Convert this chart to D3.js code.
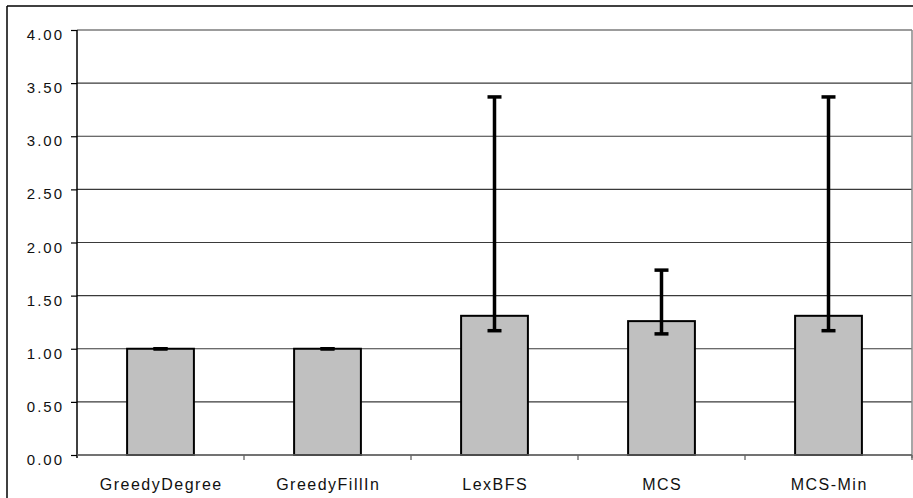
<!DOCTYPE html>
<html>
<head>
<meta charset="utf-8">
<script src="https://cdn.jsdelivr.net/npm/d3@7"></script>
<style>
  html, body { margin: 0; padding: 0; background: #fff; }
  svg { display: block; }
</style>
</head>
<body>
<svg id="chart" width="913" height="498"></svg>
<script>
const categories = ["GreedyDegree", "GreedyFillIn", "LexBFS", "MCS", "MCS-Min"];
const means      = [1.00, 1.00, 1.31, 1.26, 1.31];
const errLow     = [1.00, 1.00, 1.17, 1.14, 1.17];
const errHigh    = [1.00, 1.00, 3.37, 1.74, 3.37];
const yTicks     = [0, 0.5, 1, 1.5, 2, 2.5, 3, 3.5, 4];

const W = 913, H = 498;
const plot = { left: 77, right: 912, top: 30, bottom: 455 };

const svg = d3.select("#chart");

// outer frame (top and left only visible)
svg.append("line").attr("x1", 7).attr("x2", W).attr("y1", 6).attr("y2", 6)
  .attr("stroke", "#000").attr("stroke-width", 1.5);
svg.append("line").attr("x1", 7).attr("x2", 7).attr("y1", 6).attr("y2", H)
  .attr("stroke", "#000").attr("stroke-width", 1.5);

const x = d3.scaleBand().domain(categories)
  .range([plot.left, plot.right]).paddingInner(0.6).paddingOuter(0.3);
const y = d3.scaleLinear().domain([0, 4]).range([plot.bottom, plot.top]);

// gridlines
svg.append("g").selectAll("line").data(yTicks).join("line")
  .attr("x1", plot.left).attr("x2", plot.right)
  .attr("y1", d => y(d)).attr("y2", d => y(d))
  .attr("stroke", "#3a3a3a").attr("stroke-width", 1.2);

// right border of plot area
svg.append("line").attr("x1", plot.right).attr("x2", plot.right)
  .attr("y1", plot.top).attr("y2", plot.bottom + 3)
  .attr("stroke", "#888").attr("stroke-width", 1.5);

// y axis
const yAxis = d3.axisLeft(y).tickValues(yTicks).tickSize(6).tickFormat(d3.format(".2f"));
const gy = svg.append("g").attr("transform", `translate(${plot.left},0)`).call(yAxis);
gy.select(".domain").remove();
gy.selectAll(".tick line").attr("stroke", "#000").attr("stroke-width", 1.2);
gy.selectAll(".tick text")
  .attr("x", -13).attr("dy", null).attr("y", 9.5)
  .attr("fill", "#111")
  .style("font-family", "'Liberation Sans', Arial, Helvetica, sans-serif")
  .style("font-size", "15px").style("letter-spacing", "2px")
  .attr("text-anchor", "end");
svg.append("line").attr("x1", plot.left).attr("x2", plot.left)
  .attr("y1", plot.top).attr("y2", plot.bottom + 3)
  .attr("stroke", "#000").attr("stroke-width", 1.5);

// bars
svg.append("g").selectAll("rect").data(categories).join("rect")
  .attr("x", d => x(d)).attr("width", x.bandwidth())
  .attr("y", (d, i) => y(means[i]))
  .attr("height", (d, i) => y(0) - y(means[i]))
  .attr("fill", "#c0c0c0").attr("stroke", "#000").attr("stroke-width", 2);

// x axis
const step = x.step();
const sepTicks = d3.range(1, categories.length + 1).map(k => plot.left + k * step);
svg.append("g").selectAll("line").data(sepTicks).join("line")
  .attr("x1", d => d).attr("x2", d => d)
  .attr("y1", plot.bottom).attr("y2", plot.bottom + 5)
  .attr("stroke", "#555").attr("stroke-width", 1.2);
svg.append("line").attr("x1", plot.left).attr("x2", plot.right)
  .attr("y1", plot.bottom).attr("y2", plot.bottom)
  .attr("stroke", "#666").attr("stroke-width", 1.6);

svg.append("g").selectAll("text").data(categories).join("text")
  .attr("x", d => x(d) + x.bandwidth() / 2 + 0.75)
  .attr("y", 490)
  .attr("text-anchor", "middle")
  .attr("fill", "#111")
  .style("font-family", "'Liberation Sans', Arial, Helvetica, sans-serif")
  .style("font-size", "16px").style("letter-spacing", "1.5px")
  .text(d => d);

// error bars
const cap = 7;
const eb = svg.append("g").attr("stroke", "#000").attr("stroke-width", 3.5);
categories.forEach((c, i) => {
  const cx = x(c) + x.bandwidth() / 2;
  eb.append("line").attr("x1", cx).attr("x2", cx)
    .attr("y1", y(errLow[i])).attr("y2", y(errHigh[i]));
  eb.append("line").attr("x1", cx - cap).attr("x2", cx + cap)
    .attr("y1", y(errLow[i])).attr("y2", y(errLow[i]));
  eb.append("line").attr("x1", cx - cap).attr("x2", cx + cap)
    .attr("y1", y(errHigh[i])).attr("y2", y(errHigh[i]));
});
</script>
</body>
</html>
